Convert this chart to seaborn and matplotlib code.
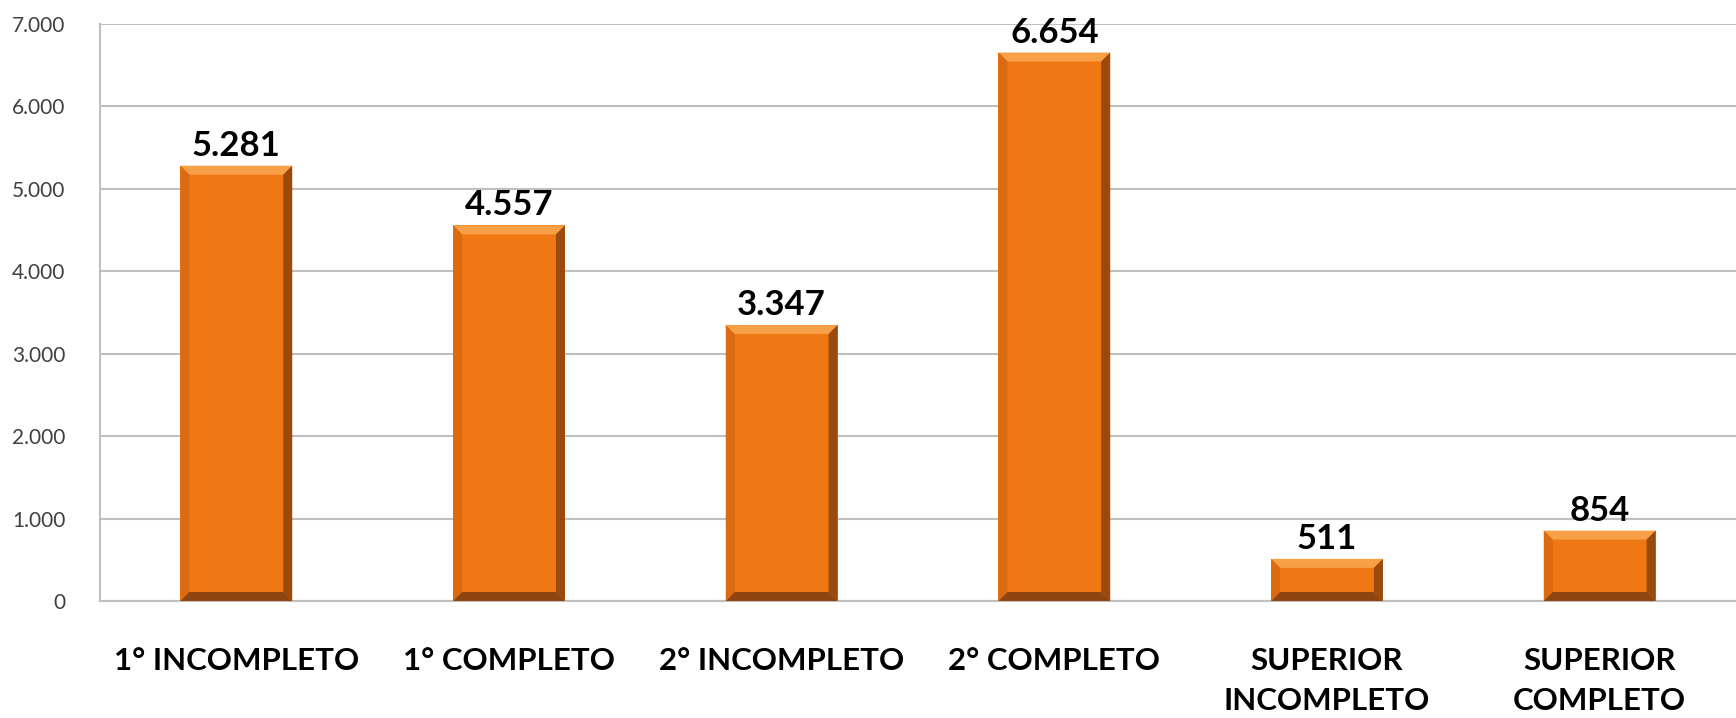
import matplotlib
matplotlib.use("Agg")
import matplotlib.pyplot as plt
from matplotlib.patches import Polygon
import seaborn as sns
import pandas as pd

categories = ["1° INCOMPLETO", "1° COMPLETO", "2° INCOMPLETO", "2° COMPLETO",
              "SUPERIOR\nINCOMPLETO", "SUPERIOR\nCOMPLETO"]
values = [5281, 4557, 3347, 6654, 511, 854]
y_ticks = [0, 1000, 2000, 3000, 4000, 5000, 6000, 7000]

BAR = "#F07814"
GRID = "#BFBFBF"

sns.set_style("white")
plt.rcParams["font.family"] = ["Lato", "DejaVu Sans"]

df = pd.DataFrame({"nivel": categories, "total": values})

fig = plt.figure(figsize=(17.36, 7.18), dpi=100)
ax = fig.add_axes([100 / 1736, 117 / 718, 1636 / 1736, 577 / 718])

sns.barplot(data=df, x="nivel", y="total", color=BAR, width=0.41,
            saturation=1, edgecolor="none", ax=ax, zorder=3)

ax.set_xlim(-0.5, len(categories) - 0.5)
ax.set_ylim(0, 7000)
ax.set_yticks(y_ticks)
ax.set_yticklabels([f"{t:,}".replace(",", ".") for t in y_ticks],
                   fontsize=15, color="#404040")
ax.set_xticks(range(len(categories)))
ax.set_xticklabels(categories, fontsize=22.5, fontweight="bold", color="black",
                   linespacing=1.55)
ax.set_xticks([i - 0.5 for i in range(len(categories) + 1)], minor=True)
ax.tick_params(axis="x", which="major", length=0, pad=33)
ax.tick_params(axis="x", which="minor", length=12, width=1.5, color=GRID,
               direction="out")
ax.tick_params(axis="y", length=9, width=1.5, color=GRID, direction="out", pad=16)
ax.yaxis.grid(True, color=GRID, linewidth=1.5, zorder=0)
ax.set_axisbelow(True)
ax.set_xlabel("")
ax.set_ylabel("")
for side in ["top", "right"]:
    ax.spines[side].set_visible(False)
for side in ["left", "bottom"]:
    ax.spines[side].set_color(GRID)
    ax.spines[side].set_linewidth(1.5)

# bevel edges on each bar, sized in pixels
px_x = 1 / (1636 / len(categories))
px_y = 7000 / 577
b = 9
for patch, v in zip(ax.patches, values):
    x0, y0 = patch.get_x(), patch.get_y()
    x1, y1 = x0 + patch.get_width(), y0 + patch.get_height()
    bx, by = b * px_x, b * px_y
    ix0, ix1, iy0, iy1 = x0 + bx, x1 - bx, y0 + by, y1 - by
    faces = [
        ([(x0, y1), (x1, y1), (ix1, iy1), (ix0, iy1)], "#F8A048"),
        ([(x0, y0), (x0, y1), (ix0, iy1), (ix0, iy0)], "#DC6A10"),
        ([(x1, y0), (x1, y1), (ix1, iy1), (ix1, iy0)], "#9A4A0C"),
        ([(x0, y0), (x1, y0), (ix1, iy0), (ix0, iy0)], "#8F4510"),
    ]
    for pts, col in faces:
        ax.add_patch(Polygon(pts, closed=True, facecolor=col, edgecolor="none",
                             zorder=4))
    ax.text(patch.get_x() + patch.get_width() / 2, y1 + 4 * px_y,
            f"{v:,}".replace(",", "."), ha="center", va="bottom",
            fontsize=25, fontweight="bold", color="black", zorder=5)

fig.savefig("out.png", dpi=100)
plt.close(fig)
